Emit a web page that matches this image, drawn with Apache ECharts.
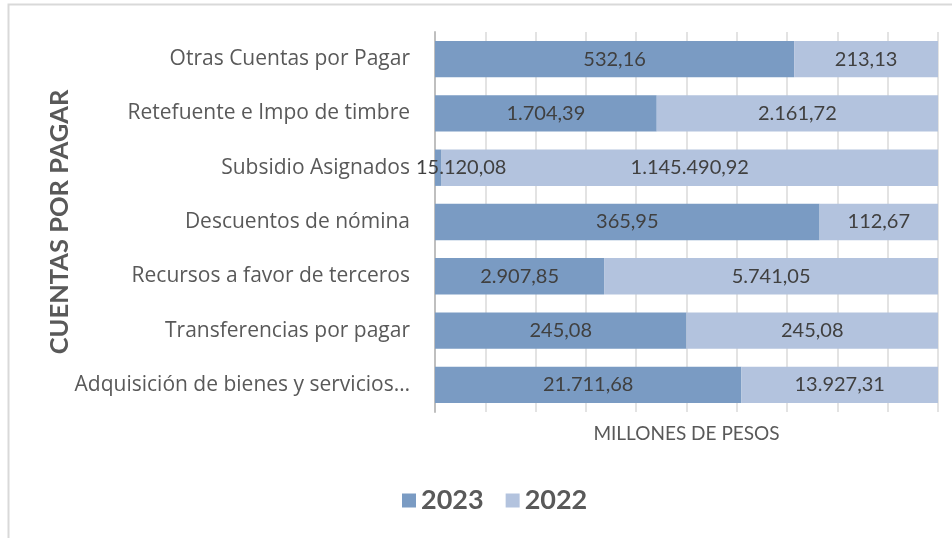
<!DOCTYPE html>
<html>
<head>
<meta charset="utf-8">
<script src="https://cdn.jsdelivr.net/npm/echarts@6/dist/echarts.min.js"></script>
<style>html,body{margin:0;padding:0;background:#fff;}#c{width:952px;height:538px;}</style>
</head>
<body>
<div id="c"></div>
<script>
const categories = ["Otras Cuentas por Pagar","Retefuente e Impo de timbre","Subsidio Asignados","Descuentos de nómina","Recursos a favor de terceros","Transferencias por pagar","Adquisición de bienes y servicios…"];
const values2023 = [532.16, 1704.39, 15120.08, 365.95, 2907.85, 245.08, 21711.68];
const values2022 = [213.13, 2161.72, 1145490.92, 112.67, 5741.05, 245.08, 13927.31];
const xTicks = [0,10,20,30,40,50,60,70,80,90,100];

function fmt(v){
  const parts = v.toFixed(2).split('.');
  parts[0] = parts[0].replace(/\B(?=(\d{3})+(?!\d))/g, '.');
  return parts[0] + ',' + parts[1];
}
const totals = values2023.map((v,i)=>v+values2022[i]);
const pct23 = values2023.map((v,i)=>v/totals[i]*100);
const pct22 = values2022.map((v,i)=>v/totals[i]*100);

const FONT = 'Lato';
const labelStyle = {show:true, position:'inside', color:'#404040', fontFamily:FONT, fontSize:20};

const d23 = pct23.map((p,i)=>{
  const o = {value:p};
  if (p < 5) o.label = {position:'insideLeft', offset:[-24,0]};
  return o;
});

const chart = echarts.init(document.getElementById('c'), null, {renderer:'canvas'});
chart.setOption({
  animation:false,
  graphic:[{type:'rect', shape:{x:8.5,y:4.5,width:1000,height:600}, style:{fill:'none', stroke:'#D9D9D9', lineWidth:2}, silent:true, z:-10}],
  legend:{
    data:['2023','2022'], top:482, left:397, itemWidth:14, itemHeight:14, itemGap:22,
    icon:'rect',
    textStyle:{fontFamily:FONT, fontWeight:'bold', fontSize:27, color:'#595959'}
  },
  grid:{left:435, right:14, top:32, bottom:126},
  xAxis:{
    type:'value', min:0, max:100, interval:10,
    name:'MILLONES DE PESOS', nameLocation:'middle', nameGap:12,
    nameTextStyle:{fontFamily:FONT, fontSize:19, color:'#595959'},
    axisLabel:{show:false}, axisTick:{show:false}, axisLine:{show:false},
    splitLine:{show:true, lineStyle:{color:'#E3E3E3', width:2}}
  },
  yAxis:{
    type:'category', data:categories, inverse:true,
    name:'CUENTAS POR PAGAR', nameLocation:'middle', nameGap:362, nameRotate:90,
    nameMoveOverlap:false,
    nameTextStyle:{fontFamily:FONT, fontSize:25.5, fontWeight:'bold', color:'#595959'},
    axisLine:{show:true, lineStyle:{color:'#BFBFBF', width:2}},
    axisTick:{show:false},
    axisLabel:{margin:25, fontFamily:'Open Sans', fontSize:21, color:'#595959'}
  },
  series:[
    {name:'2023', type:'bar', stack:'t', data:d23, barCategoryGap:'33%',
     itemStyle:{color:'#7A9BC3'},
     label:Object.assign({}, labelStyle, {formatter:(p)=>fmt(values2023[p.dataIndex])})},
    {name:'2022', type:'bar', stack:'t', data:pct22, barCategoryGap:'33%',
     itemStyle:{color:'#B3C3DE'},
     label:Object.assign({}, labelStyle, {formatter:(p)=>fmt(values2022[p.dataIndex])})}
  ]
});
</script>
</body>
</html>
